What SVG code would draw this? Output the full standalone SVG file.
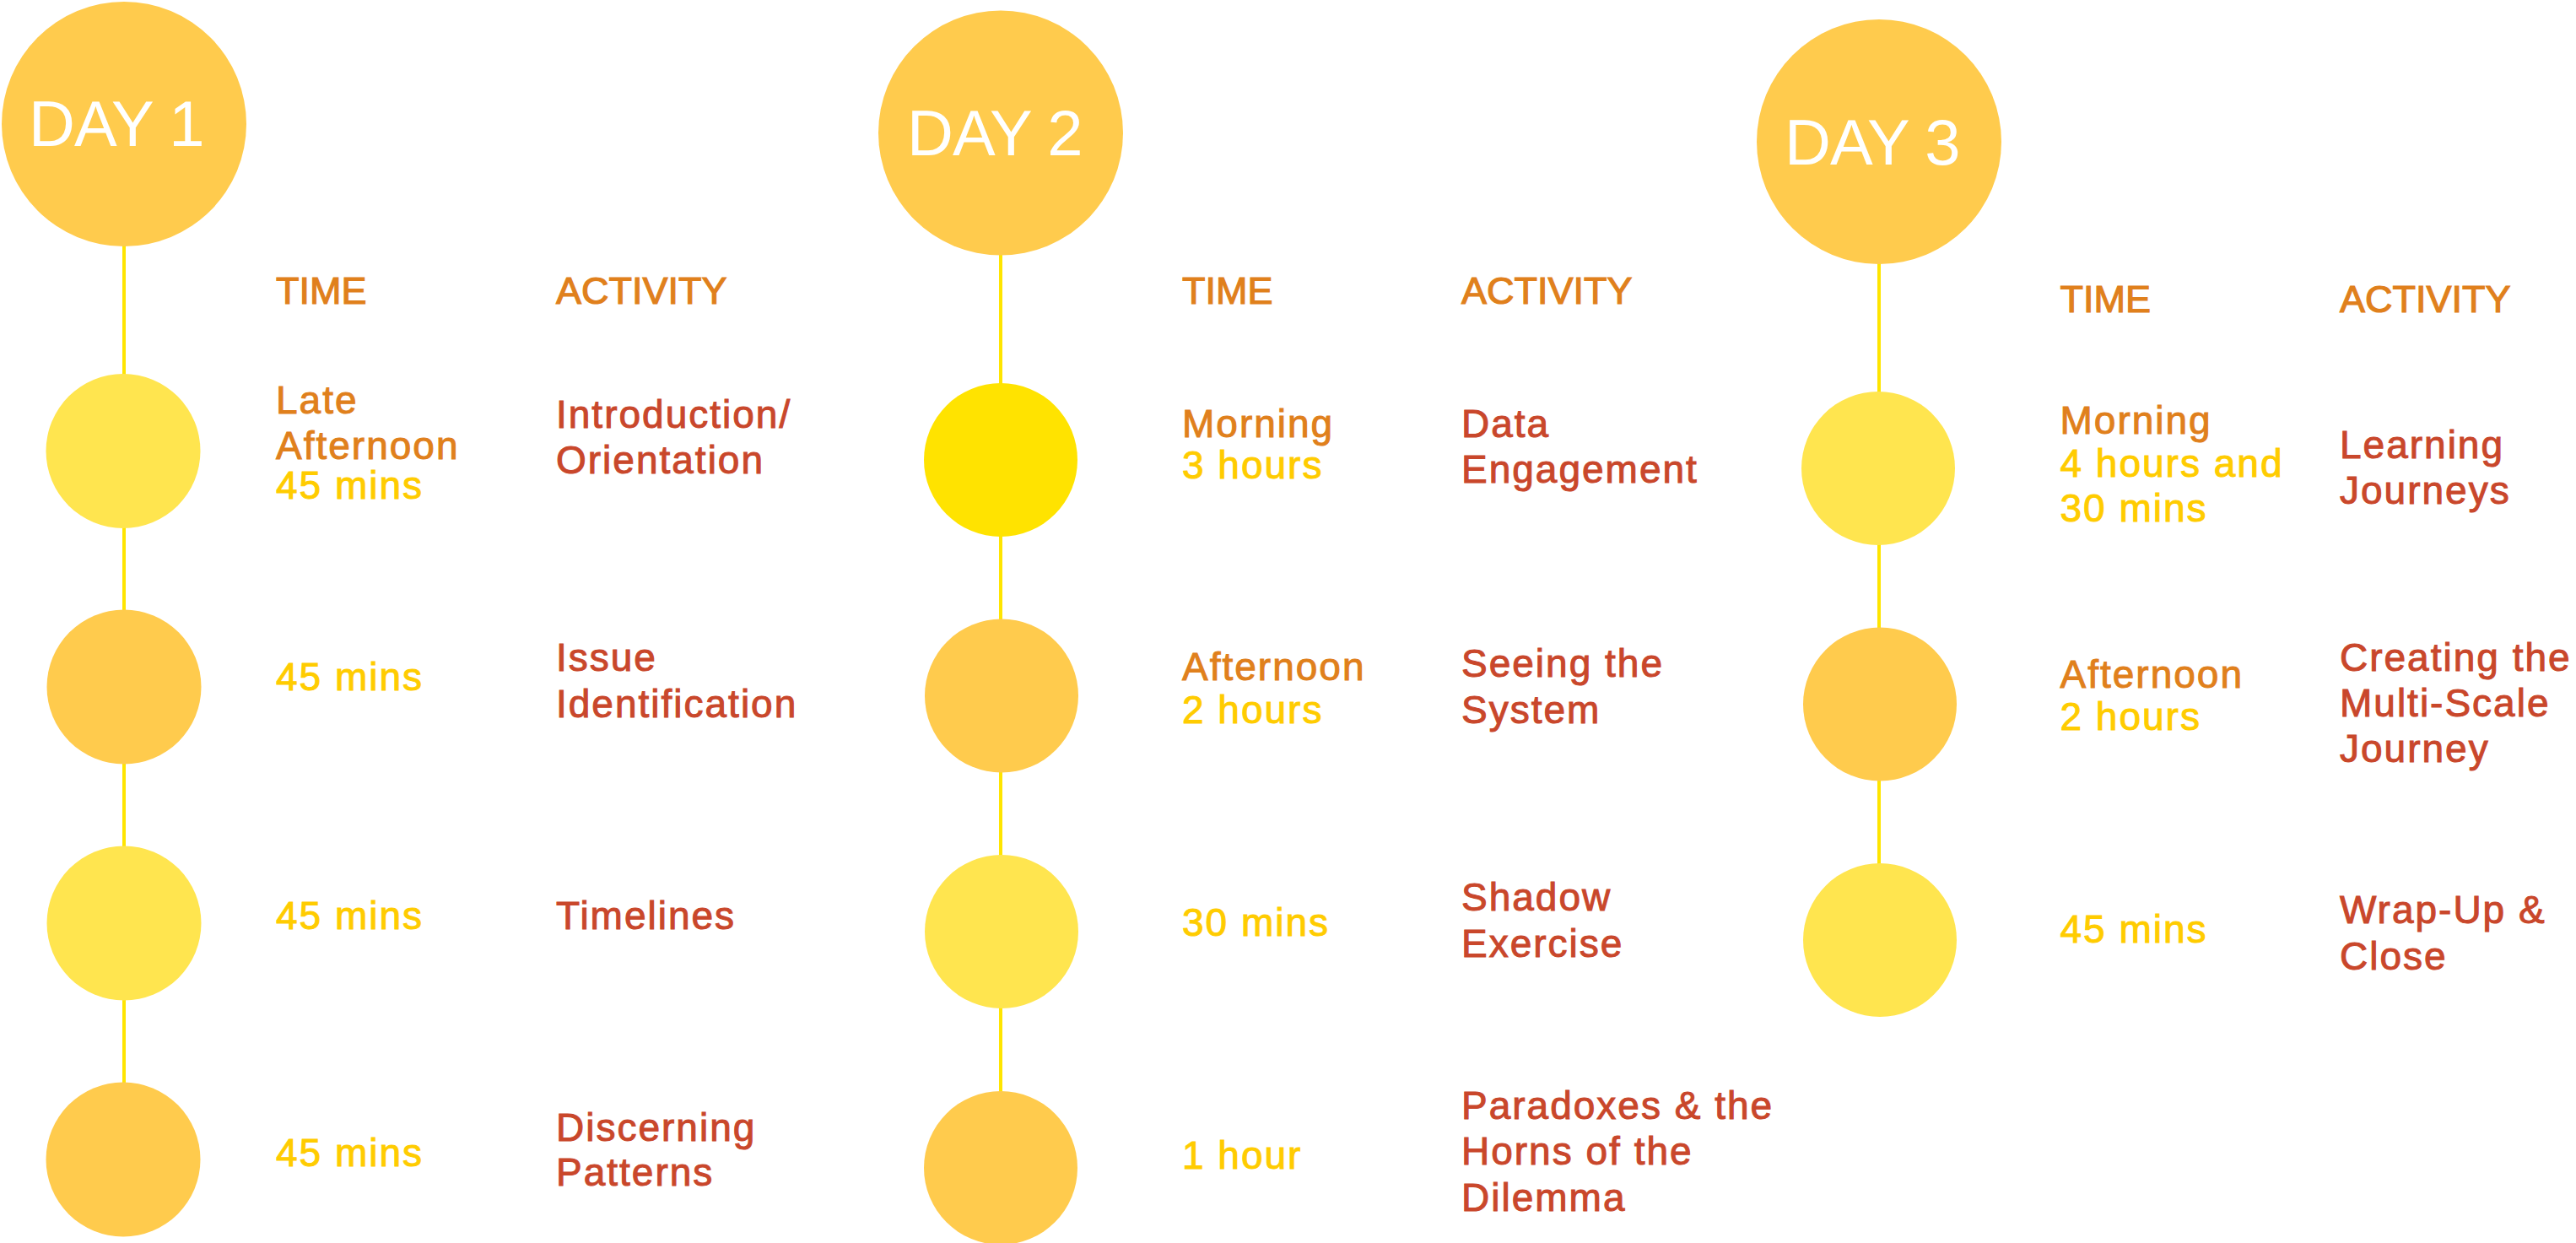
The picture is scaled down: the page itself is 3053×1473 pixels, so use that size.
<svg xmlns="http://www.w3.org/2000/svg" width="3053" height="1473" viewBox="0 0 3053 1473">
<style>
text{font-family:"Liberation Sans","Open Sans",sans-serif;}
.day{fill:#FFFFFF;font-size:76px;letter-spacing:-1px;}
.hdr{fill:#E0801C;stroke:#E0801C;stroke-width:1.2px;font-size:45px;}
.per{fill:#E0801C;stroke:#E0801C;stroke-width:1px;font-size:46px;letter-spacing:2px;}
.dur{fill:#FFCC00;stroke:#FFCC00;stroke-width:1px;font-size:46px;letter-spacing:2px;}
.act{fill:#C9472B;stroke:#C9472B;stroke-width:1px;font-size:46px;letter-spacing:2px;}
.big{fill:#FFCB4D;}
.c-orange{fill:#FFCB4D;}
.c-light{fill:#FFE54F;}
.c-bright{fill:#FFE300;}
.conn line{stroke:#FFE500;stroke-width:4;}
</style>
<rect width="3053" height="1473" fill="#FFFFFF"/>
<g id="connectors" class="conn">
<line x1="147" y1="290" x2="147" y2="445"/>
<line x1="147" y1="624" x2="147" y2="724"/>
<line x1="147" y1="904" x2="147" y2="1004"/>
<line x1="147" y1="1184" x2="147" y2="1284"/>
<line x1="1186" y1="300" x2="1186" y2="455"/>
<line x1="1186" y1="634" x2="1186" y2="735"/>
<line x1="1186" y1="913" x2="1186" y2="1015"/>
<line x1="1186" y1="1193" x2="1186" y2="1295"/>
<line x1="2227" y1="311" x2="2227" y2="466"/>
<line x1="2227" y1="644" x2="2227" y2="745"/>
<line x1="2227" y1="923" x2="2227" y2="1025"/>
</g>
<g id="day1">
<circle class="big" cx="147" cy="147" r="145"/>
<text class="day" x="34" y="173">DAY 1</text>
<text class="hdr" x="327" y="360">TIME</text>
<text class="hdr" x="659" y="360">ACTIVITY</text>
</g>
<g id="d1-r1">
<circle class="c-light" cx="146" cy="534.5" r="91.5"/>
<text class="per" x="327" y="490">Late</text>
<text class="per" x="327" y="544">Afternoon</text>
<text class="dur" x="327" y="591">45 mins</text>
<text class="act" x="659" y="507">Introduction/</text>
<text class="act" x="659" y="561">Orientation</text>
</g>
<g id="d1-r2">
<circle class="c-orange" cx="147" cy="814" r="91.5"/>
<text class="dur" x="327" y="818">45 mins</text>
<text class="act" x="659" y="795">Issue</text>
<text class="act" x="659" y="849.5">Identification</text>
</g>
<g id="d1-r3">
<circle class="c-light" cx="147" cy="1094" r="91.5"/>
<text class="dur" x="327" y="1101">45 mins</text>
<text class="act" x="659" y="1101">Timelines</text>
</g>
<g id="d1-r4">
<circle class="c-orange" cx="146" cy="1374" r="91.5"/>
<text class="dur" x="327" y="1382">45 mins</text>
<text class="act" x="659" y="1352">Discerning</text>
<text class="act" x="659" y="1405">Patterns</text>
</g>
<g id="day2">
<circle class="big" cx="1186" cy="157.5" r="145"/>
<text class="day" x="1075" y="184">DAY 2</text>
<text class="hdr" x="1401" y="360">TIME</text>
<text class="hdr" x="1732" y="360">ACTIVITY</text>
</g>
<g id="d2-r1">
<circle class="c-bright" cx="1186" cy="545" r="91"/>
<text class="per" x="1401" y="517.5">Morning</text>
<text class="dur" x="1401" y="567">3 hours</text>
<text class="act" x="1732" y="517.5">Data</text>
<text class="act" x="1732" y="571.5">Engagement</text>
</g>
<g id="d2-r2">
<circle class="c-orange" cx="1187" cy="824.5" r="91"/>
<text class="per" x="1401" y="806">Afternoon</text>
<text class="dur" x="1401" y="857">2 hours</text>
<text class="act" x="1732" y="802">Seeing the</text>
<text class="act" x="1732" y="857">System</text>
</g>
<g id="d2-r3">
<circle class="c-light" cx="1187" cy="1104" r="91"/>
<text class="dur" x="1401" y="1109">30 mins</text>
<text class="act" x="1732" y="1079">Shadow</text>
<text class="act" x="1732" y="1134">Exercise</text>
</g>
<g id="d2-r4">
<circle class="c-orange" cx="1186" cy="1384" r="91"/>
<text class="dur" x="1401" y="1385">1 hour</text>
<text class="act" x="1732" y="1326">Paradoxes &amp; the</text>
<text class="act" x="1732" y="1380">Horns of the</text>
<text class="act" x="1732" y="1434.5">Dilemma</text>
</g>
<g id="day3">
<circle class="big" cx="2227" cy="168" r="145"/>
<text class="day" x="2115" y="195">DAY 3</text>
<text class="hdr" x="2441.5" y="370">TIME</text>
<text class="hdr" x="2773" y="370">ACTIVITY</text>
</g>
<g id="d3-r1">
<circle class="c-light" cx="2226" cy="555" r="91"/>
<text class="per" x="2441.5" y="514">Morning</text>
<text class="dur" x="2441.5" y="564.5">4 hours and</text>
<text class="dur" x="2441.5" y="618">30 mins</text>
<text class="act" x="2773" y="543">Learning</text>
<text class="act" x="2773" y="597">Journeys</text>
</g>
<g id="d3-r2">
<circle class="c-orange" cx="2228" cy="834.5" r="91"/>
<text class="per" x="2441.5" y="815">Afternoon</text>
<text class="dur" x="2441.5" y="865">2 hours</text>
<text class="act" x="2773" y="795">Creating the</text>
<text class="act" x="2773" y="849">Multi-Scale</text>
<text class="act" x="2773" y="903">Journey</text>
</g>
<g id="d3-r3">
<circle class="c-light" cx="2228" cy="1114" r="91"/>
<text class="dur" x="2441.5" y="1116.5">45 mins</text>
<text class="act" x="2773" y="1094">Wrap-Up &amp;</text>
<text class="act" x="2773" y="1148.5">Close</text>
</g>
</svg>
